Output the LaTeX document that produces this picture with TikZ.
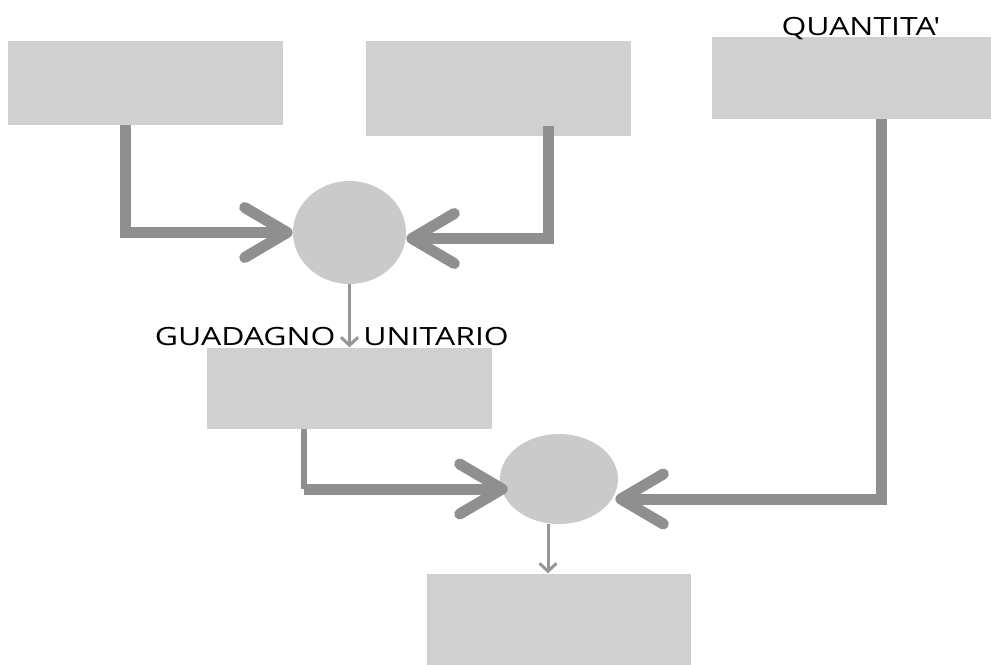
\documentclass[tikz,border=0pt]{standalone}
\usepackage{fontspec}
\newfontfamily\labelfont{Open Sans}
\usepackage{xcolor}
\usepackage{tikz}
\usetikzlibrary{arrows.meta}
\usetikzlibrary{shapes.geometric}
\usetikzlibrary{positioning}
\definecolor{boxgray}{RGB}{208,208,208}
\definecolor{circgray}{RGB}{202,202,202}
\definecolor{linegray}{RGB}{143,143,143}
\definecolor{thingray}{RGB}{150,150,150}

\begin{document}
\begin{tikzpicture}[x=0.02cm,y=-0.02cm,>={Straight Barb[length=0.85cm,width=1cm,round]},node distance=1cm]
	\tikzstyle{rect}=[fill=boxgray, inner sep=0pt]
	\tikzstyle{op}=[ellipse, fill=circgray, inner sep=0pt]
	\tikzstyle{flow}=[draw=linegray, line width=0.22cm]
	\tikzstyle{small}=[draw=thingray, line width=0.06cm, -{Straight Barb[length=0.16cm,width=0.34cm]}]
	\tikzstyle{lbl}=[font=\labelfont\fontsize{14.3}{16}\selectfont, inner sep=0pt, xscale=1.27, transform shape]
	\useasboundingbox (0,0) rectangle (991,664);

	\node[rect, minimum width=5.5cm, minimum height=1.68cm]	(A) at (145.5,83)	{};
	\node[rect, minimum width=5.3cm, minimum height=1.9cm]	(B) at (498.5,88.5)	{};
	\node[rect, minimum width=5.64cm, minimum height=1.64cm]	(C) at (853,78)	{};
	\node[op, minimum width=2.26cm, minimum height=2.06cm]	(c1) at (349.5,232.5)	{};
	\node[rect, minimum width=5.72cm, minimum height=1.62cm]	(D) [below=1.26cm of c1]	{};
	\node[op, minimum width=2.36cm, minimum height=1.8cm]	(c2) at (559,479)	{};
	\node[rect, minimum width=5.28cm, minimum height=1.94cm]	(E) [below=0.98cm of c2]	{};

	\node[lbl, anchor=base east]	(gain) at (336,345)	{GUADAGNO};
	\node[lbl, anchor=base west]	(unit) at (363,345)	{UNITARIO};
	\node[lbl, anchor=base]	(qty) at (861,35)	{QUANTITA'};

	\coordinate (c2in) at ([xshift=0.16cm,yshift=-0.2cm]c2.west);
	\coordinate (dturn) at ([xshift=-0.92cm]D.south |- c2in);

	\draw[flow,->] ([xshift=-0.41cm]A.south) |- (c1);
	\draw[flow,->] ([xshift=1.01cm,yshift=0.2cm]B.south) |- ([yshift=-0.12cm]c1.east);
	\draw[flow, line width=0.12cm] ([xshift=-0.92cm]D.south) -- (dturn);
	\draw[flow,->] (dturn) -- (c2in);
	\draw[flow,->] ([xshift=0.56cm]C.south) |- ([xshift=-0.06cm,yshift=-0.4cm]c2.east);
	%thin arrows
	\path (c1) edge[small] (D);
	\draw[small] ([xshift=-0.22cm]c2.south) -- ([xshift=-0.22cm]E.north);
\end{tikzpicture}
\end{document}
